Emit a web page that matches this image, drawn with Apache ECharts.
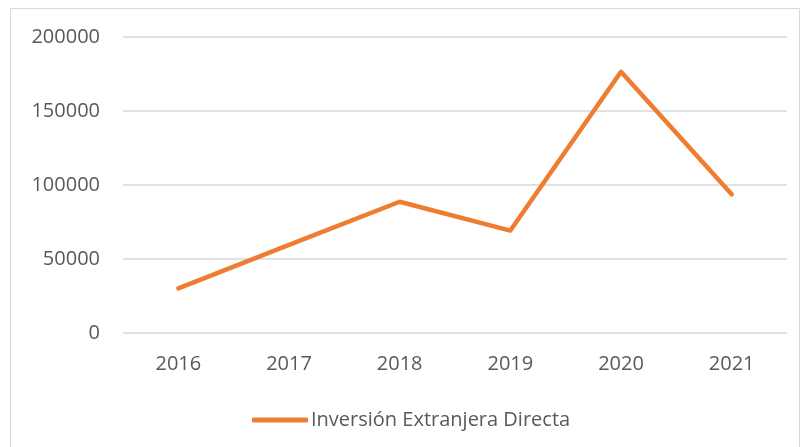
<!DOCTYPE html>
<html>
<head>
<meta charset="utf-8">
<script src="https://cdn.jsdelivr.net/npm/echarts@6/dist/echarts.min.js"></script>
<style>
  html, body { margin: 0; padding: 0; background: #fff; }
  #chart { width: 803px; height: 447px; }
</style>
</head>
<body>
<div id="chart"></div>
<script>
const years = ['2016', '2017', '2018', '2019', '2020', '2021'];
const ied = [30200, 59500, 88700, 69200, 176500, 93700];
const seriesName = 'Inversión Extranjera Directa';

const chart = echarts.init(document.getElementById('chart'));
const textColor = '#595959';
const font = 'Open Sans';

chart.setOption({
  backgroundColor: '#fff',
  animation: false,
  graphic: [{
    type: 'rect',
    shape: { x: 10.5, y: 8.5, width: 789, height: 460 },
    style: { fill: 'none', stroke: '#d9d9d9', lineWidth: 1 }
  }],
  grid: { left: 123, right: 16, top: 37, bottom: 114 },
  legend: {
    data: [seriesName],
    top: 405,
    left: 247,
    icon: 'roundRect',
    itemWidth: 56,
    itemHeight: 5,
    itemGap: 4,
    textStyle: { color: textColor, fontFamily: font, fontSize: 20, padding: [0, 0, 0, -2] }
  },
  xAxis: {
    type: 'category',
    data: years,
    axisLine: { show: false },
    axisTick: { show: false },
    axisLabel: { color: textColor, fontFamily: font, fontSize: 20, margin: 21 }
  },
  yAxis: {
    type: 'value',
    min: 0,
    max: 200000,
    interval: 50000,
    axisLine: { show: false },
    axisTick: { show: false },
    splitLine: { lineStyle: { color: '#d9d9d9', width: 1.5 } },
    axisLabel: {
      color: textColor, fontFamily: font, fontSize: 20, margin: 23,
      formatter: v => String(v)
    }
  },
  series: [{
    name: seriesName,
    type: 'line',
    data: ied,
    showSymbol: false,
    symbol: 'none',
    lineStyle: { color: '#ED7D31', width: 4.5, cap: 'round', join: 'round' },
    itemStyle: { color: '#ED7D31' }
  }]
});
</script>
</body>
</html>
